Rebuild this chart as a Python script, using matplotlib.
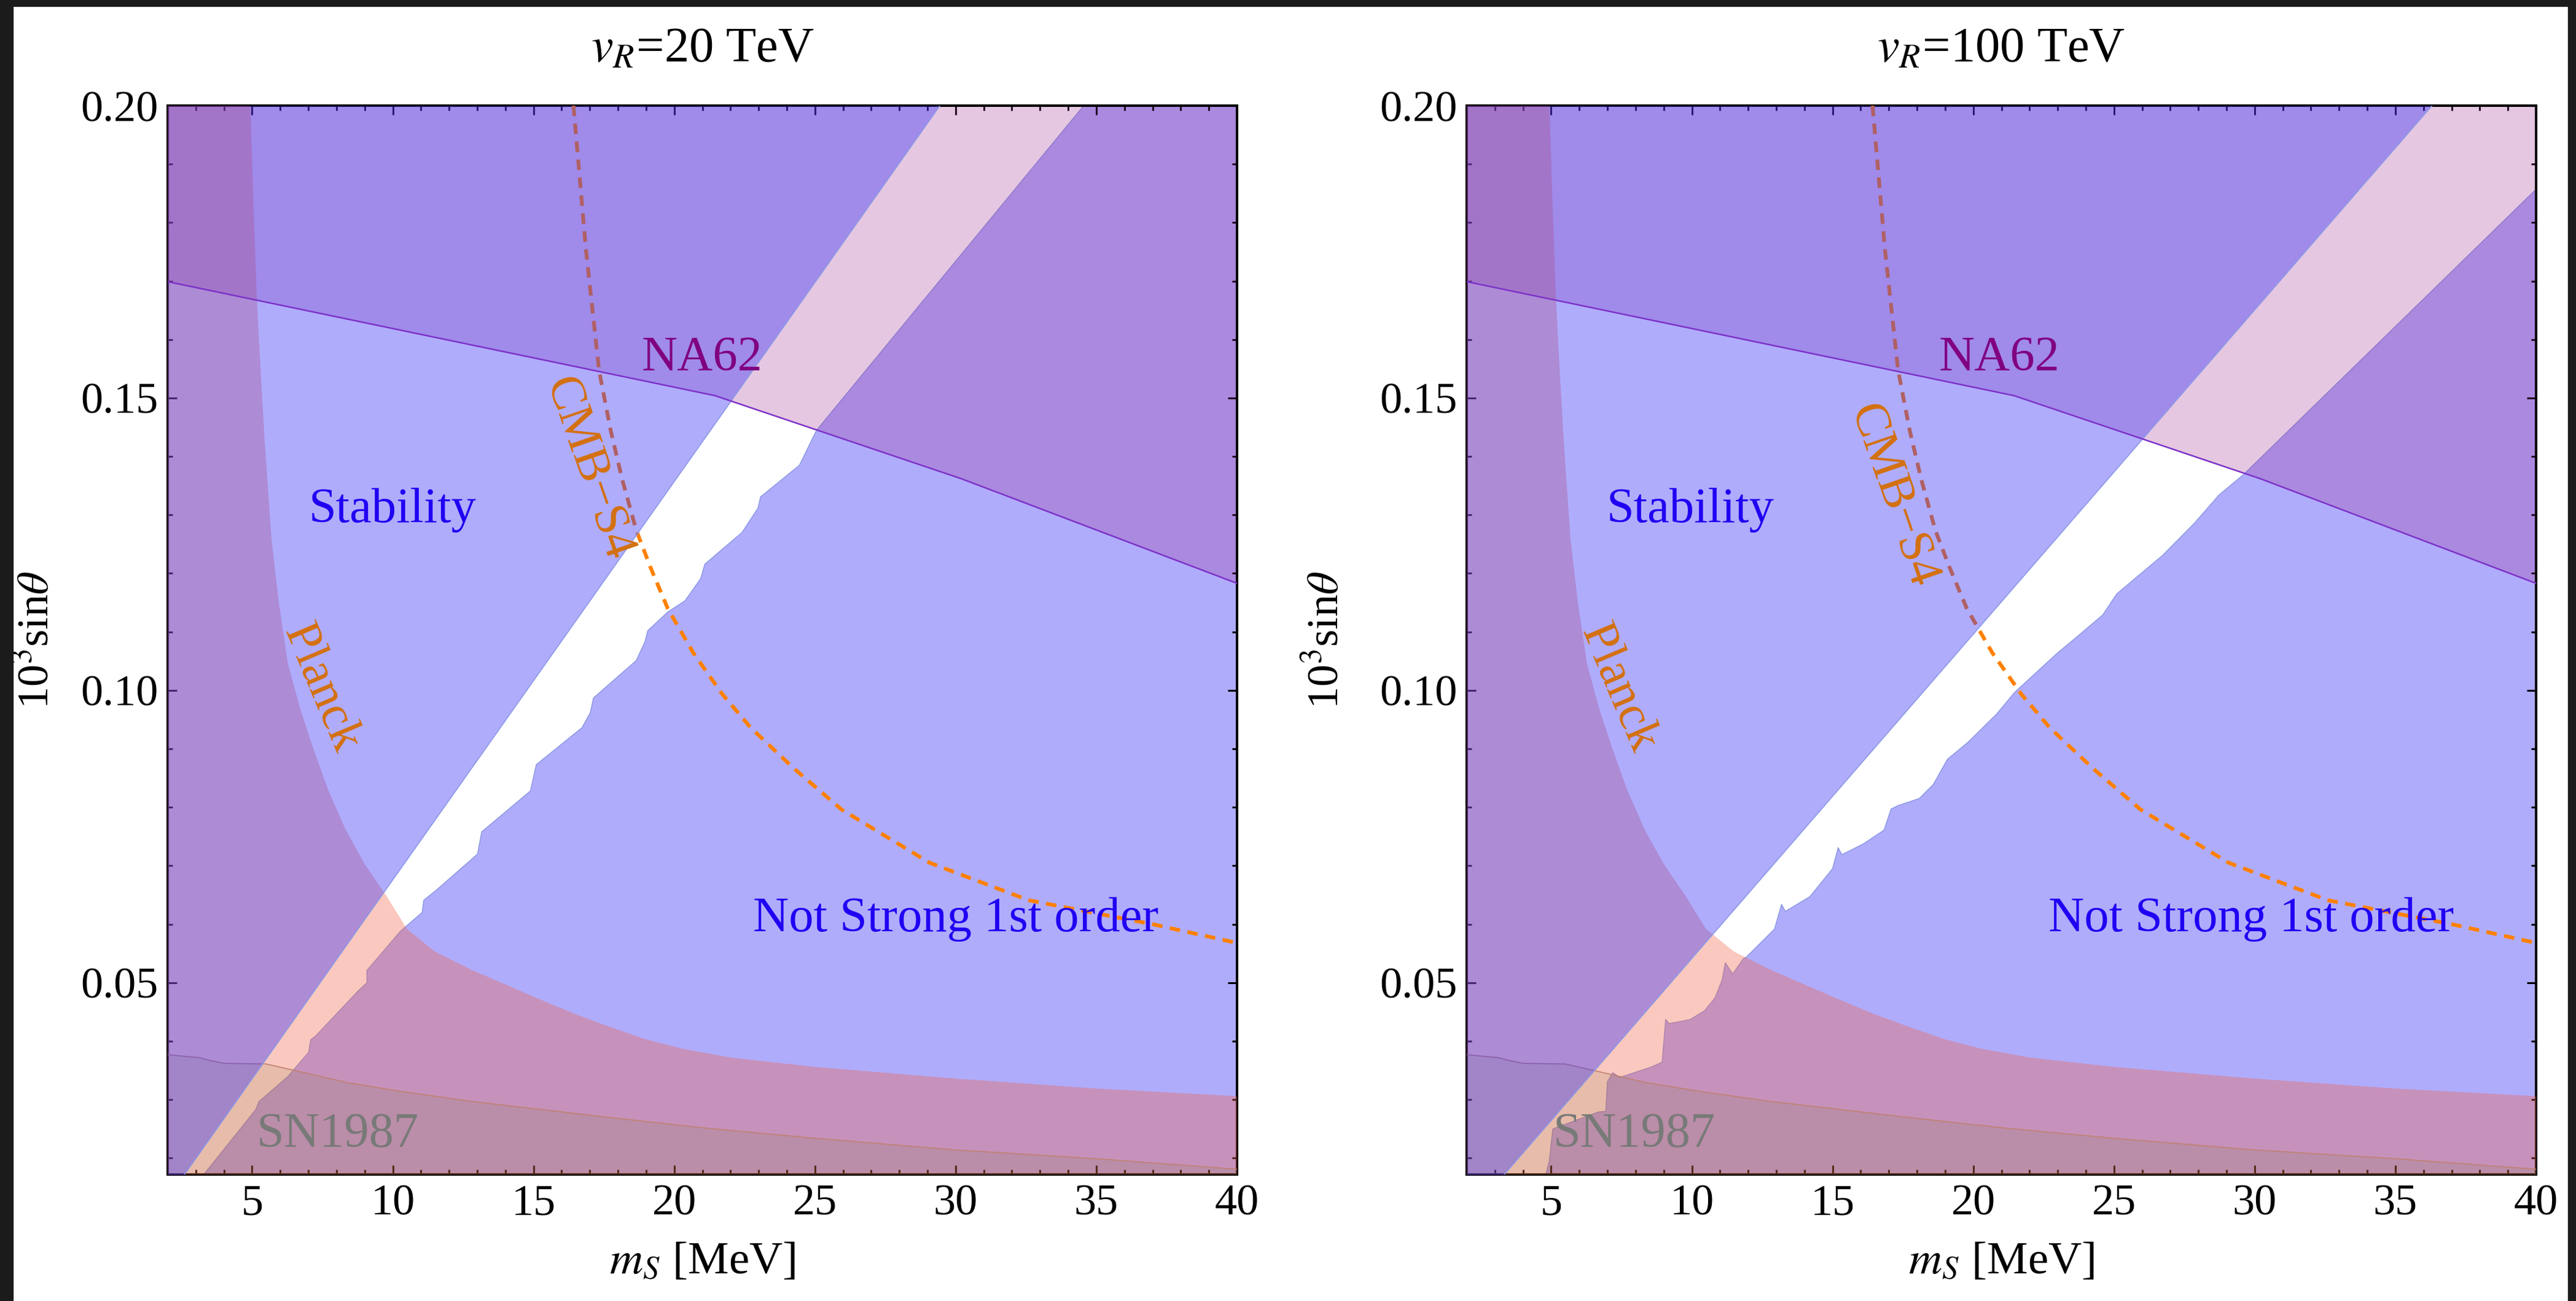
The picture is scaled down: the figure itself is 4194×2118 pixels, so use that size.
import matplotlib.pyplot as plt
from matplotlib.patches import Rectangle
from matplotlib.ticker import MultipleLocator, FormatStrFormatter

plt.rcParams['font.family'] = ['Liberation Serif', 'DejaVu Serif']
plt.rcParams['mathtext.fontset'] = 'stix'

XMIN, XMAX = 2.0, 40.0
YMIN, YMAX = 0.0172, 0.2

# exclusion curves shared by both panels (m_S in MeV, 10^3 sin(theta))
na62_x = [2.0, 21.45, 30.2, 40.0]
na62_y = [0.1699, 0.1504, 0.1362, 0.1183]

planck_x = [4.94, 5.05, 5.17, 5.30, 5.45, 5.69, 5.95, 6.27, 6.70, 7.15, 7.70, 8.32, 9.00,
            9.78, 10.5, 11.5, 12.8, 14.0, 15.3, 16.5, 17.8, 19.0, 20.3, 22.0, 25.0, 30.0,
            35.0, 40.0]
planck_y = [0.200, 0.183, 0.167, 0.155, 0.1424, 0.1258, 0.115, 0.1046, 0.097, 0.0904, 0.083,
            0.0762, 0.0703, 0.0648, 0.0592, 0.0553, 0.0522, 0.0497, 0.0470, 0.0446, 0.0423,
            0.0403, 0.0387, 0.0372, 0.0356, 0.0336, 0.0319, 0.0306]

sn_x = [2.0, 2.6, 3.1, 3.5, 4.0, 5.5, 6.5, 8.4, 10.3, 12.8, 15.3, 17.8, 21.2, 25.0, 30.0, 35.0, 40.0]
sn_y = [0.0377, 0.0374, 0.0372, 0.0367, 0.0362, 0.0361, 0.0350, 0.0329, 0.0314, 0.0297,
        0.0283, 0.0269, 0.0251, 0.0234, 0.0214, 0.0199, 0.0181]

cmb_x = [16.42, 16.86, 17.33, 17.74, 18.14, 18.65, 19.16, 19.77, 20.68, 21.7, 22.72, 24.24,
         25.95, 29.08, 32.6, 37.0, 40.0]
cmb_y = [0.200, 0.1755, 0.1547, 0.1445, 0.1363, 0.1274, 0.1210, 0.1140, 0.1064, 0.0994,
         0.0936, 0.0867, 0.0796, 0.0705, 0.0641, 0.0600, 0.0568]

# vR = 20 TeV: stability boundary and strong-transition boundary
stab20_x = [2.57, 29.44]
stab20_y = [0.017, 0.200]
pt20_x = [3.25, 5.13, 5.25, 6.26, 7.01, 7.08, 7.26, 8.77, 9.08, 9.08, 10.27, 11.04, 11.10,
          11.54, 13.01, 13.16, 14.89, 15.10, 16.72, 17.02, 17.13, 18.65, 18.96, 19.06, 19.77,
          20.38, 20.94, 21.09, 22.41, 22.98, 23.07, 24.45, 25.06, 34.55]
pt20_y = [0.0170, 0.0283, 0.0297, 0.0339, 0.0381, 0.0402, 0.0409, 0.0486, 0.0500, 0.0521,
          0.0588, 0.0620, 0.0641, 0.0658, 0.0720, 0.0758, 0.0828, 0.0873, 0.0936, 0.0962,
          0.0987, 0.1051, 0.1083, 0.1102, 0.1134, 0.1153, 0.1191, 0.1216, 0.1270, 0.1312,
          0.1331, 0.1385, 0.1445, 0.2000]

# vR = 100 TeV
stab100_x = [3.30, 36.30]
stab100_y = [0.017, 0.200]
pt100_x = [4.80, 4.93, 5.06, 6.69, 6.94, 7.00, 7.19, 7.44, 8.57, 8.94, 9.07, 9.19, 9.94, 10.45,
           10.82, 11.07, 11.19, 11.45, 11.83, 11.94, 12.94, 13.19, 13.32, 14.19, 15.00, 15.20,
           15.33, 16.08, 16.83, 17.08, 17.33, 18.08, 18.58, 19.08, 19.83, 20.84, 21.46, 22.97,
           23.72, 24.60, 25.10, 26.73, 27.86, 28.73, 29.60, 40.00]
pt100_y = [0.0170, 0.0194, 0.0250, 0.0279, 0.0280, 0.0331, 0.0346, 0.0338, 0.0356, 0.0364,
           0.0437, 0.0430, 0.0437, 0.0452, 0.0474, 0.0504, 0.0534, 0.0515, 0.0541, 0.0544,
           0.0592, 0.0634, 0.0622, 0.0647, 0.0695, 0.0731, 0.0719, 0.0737, 0.0761, 0.0797,
           0.0803, 0.0815, 0.0839, 0.0882, 0.0912, 0.0960, 0.0996, 0.1063, 0.1093, 0.1129,
           0.1165, 0.1231, 0.1286, 0.1334, 0.1369, 0.1857]

BLUE = (58/255, 48/255, 248/255)
NA62_C = (155/255, 35/255, 139/255)
PLANCK_C = (241/255, 98/255, 69/255)
SN_C = (112/255, 108/255, 40/255)
LABEL_BLUE = (0.13, 0.0, 0.95)
ORANGE_TXT = (0.83, 0.44, 0.06)

W, H = 4194, 2118
fig = plt.figure(figsize=(W / 100, H / 100), dpi=100)


def panel(left_px, stab_x, stab_y, pt_x, pt_y, title, pos, ylab_off):
    ax = fig.add_axes([left_px / W, (H - 1912) / H, 1741 / W, 1740 / H])

    # not strong first order (drawn underneath everything else)
    ax.fill(pt_x + [XMAX, XMAX], pt_y + [YMAX, YMIN], color=BLUE, alpha=0.4, lw=0, zorder=1)
    ax.plot(pt_x, pt_y, color='#8795E0', lw=1.0, zorder=1.5)
    # NA62
    ax.fill_between(na62_x, na62_y, YMAX, color=NA62_C, alpha=0.25, lw=0, zorder=2)
    # Planck
    ax.fill(planck_x + [XMAX, XMIN, XMIN], planck_y + [YMIN, YMIN, YMAX],
            color=PLANCK_C, alpha=0.35, lw=0, zorder=3)
    # SN1987
    ax.fill_between(sn_x, YMIN, sn_y, color=SN_C, alpha=0.13, lw=0, zorder=4)
    ax.plot(sn_x, sn_y, color='#C08070', lw=1.2, zorder=4.5)
    # CMB-S4 projection
    ax.plot(cmb_x, cmb_y, color='#FF8000', lw=4.4, dashes=(2.8, 2.0), zorder=5)
    # vacuum stability
    ax.fill_betweenx(stab_y, XMIN, stab_x, color=BLUE, alpha=0.4, lw=0, zorder=6)
    ax.plot(stab_x, stab_y, color='#8C9BE6', lw=1.2, zorder=6.5)
    ax.plot(na62_x, na62_y, color='#7D32C8', lw=1.8, zorder=7)

    fs = 58
    ax.text(*pos['stab'], 'Stability', color=LABEL_BLUE, fontsize=fs, ha='center', va='center', zorder=10)
    ax.text(*pos['nsfo'], 'Not Strong 1st order', color=LABEL_BLUE, fontsize=fs,
            ha='center', va='center', zorder=10)
    ax.text(*pos['na62'], 'NA62', color='#800080', fontsize=fs, ha='center', va='center', zorder=10)
    ax.text(*pos['cmb'], 'CMB\u2212S4', color=ORANGE_TXT, fontsize=fs, rotation=-71,
            rotation_mode='anchor', ha='center', va='center', zorder=10)
    ax.text(*pos['planck'], 'Planck', color=ORANGE_TXT, fontsize=fs, rotation=-67,
            rotation_mode='anchor', ha='center', va='center', zorder=10)
    ax.text(*pos['sn'], 'SN1987', color=(0.47, 0.48, 0.47), fontsize=fs,
            ha='center', va='center', zorder=10)

    ax.set_xlim(XMIN, XMAX)
    ax.set_ylim(YMIN, YMAX)
    ax.xaxis.set_major_locator(MultipleLocator(5))
    ax.xaxis.set_minor_locator(MultipleLocator(1))
    ax.yaxis.set_major_locator(MultipleLocator(0.05))
    ax.yaxis.set_minor_locator(MultipleLocator(0.01))
    ax.yaxis.set_major_formatter(FormatStrFormatter('%.2f'))
    ax.tick_params(which='both', direction='in', top=True, right=True, width=2.2,
                   labelsize=52, pad=11)
    ax.tick_params(which='major', length=10.8)
    ax.tick_params(which='minor', length=6)
    for s in ax.spines.values():
        s.set_linewidth(2.9)

    ax.text(0.5, 1 + 91 / 1740, title, transform=ax.transAxes, fontsize=58,
            ha='center', va='center')
    ax.set_xlabel('$m_S$ [MeV]', fontsize=54)
    ax.xaxis.label.set_va('center')
    ax.xaxis.set_label_coords(0.5, -144 / 1740)
    ax.set_ylabel('10$^3$sin$\\theta$', fontsize=52)
    ax.yaxis.label.set_va('center')
    ax.yaxis.set_label_coords(-ylab_off / 1741, 0.5)
    return ax


panel(273, stab20_x, stab20_y, pt20_x, pt20_y, '$v_R$=20 TeV',
      {'stab': (10.0, 0.1308), 'nsfo': (30.0, 0.0608), 'na62': (21.0, 0.1568),
       'cmb': (16.95, 0.1379), 'planck': (7.44, 0.1003), 'sn': (8.04, 0.0240)}, 213)
panel(2388, stab100_x, stab100_y, pt100_x, pt100_y, '$v_R$=100 TeV',
      {'stab': (9.94, 0.1308), 'nsfo': (29.88, 0.0609), 'na62': (20.93, 0.1568),
       'cmb': (17.14, 0.1332), 'planck': (7.37, 0.1003), 'sn': (7.96, 0.0240)}, 228)

# dark screen border around the page
dark = '#1b1b1b'
fig.add_artist(Rectangle((0, 0), 21 / W, 1, transform=fig.transFigure, color=dark, zorder=20))
fig.add_artist(Rectangle((4181 / W, 0), 13 / W, 1, transform=fig.transFigure, color=dark, zorder=20))
fig.add_artist(Rectangle((0, 1 - 10 / H), 1, 10 / H, transform=fig.transFigure, color=dark, zorder=20))

fig.savefig('out.png', dpi=100)
